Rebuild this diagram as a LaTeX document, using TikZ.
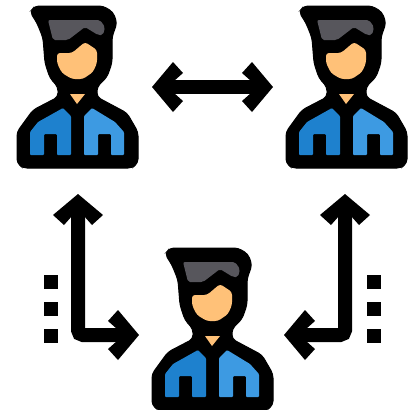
\documentclass[tikz,border=0pt]{standalone}
\usetikzlibrary{arrows.meta}
\definecolor{hairgray}{HTML}{57565C}
\definecolor{skin}{HTML}{FFC178}
\definecolor{jacketdark}{HTML}{1E81CE}
\definecolor{jacketlight}{HTML}{3D9AE2}
\pgfdeclarearrow{
  name = Chevron,
  setup code = {\pgfarrowssettipend{0pt}\pgfarrowssetlineend{-18pt}
    \pgfarrowssetvisualbackend{-31pt}\pgfarrowssetbackend{-31pt}},
  drawing code = {
    \pgfsetcornersarced{\pgfpoint{1.5pt}{1.5pt}}
    \pgfpathmoveto{\pgfpoint{-3pt}{0pt}}
    \pgfpathlineto{\pgfpoint{0pt}{0pt}}
    \pgfpathlineto{\pgfpoint{-21pt}{25pt}}
    \pgfpathlineto{\pgfpoint{-31pt}{14pt}}
    \pgfpathlineto{\pgfpoint{-22pt}{6pt}}
    \pgfpathlineto{\pgfpoint{-22pt}{-6pt}}
    \pgfpathlineto{\pgfpoint{-31pt}{-14pt}}
    \pgfpathlineto{\pgfpoint{-21pt}{-25pt}}
    \pgfpathlineto{\pgfpoint{0pt}{0pt}}
    \pgfpathclose
    \pgfusepathqfill
  }
}
\tikzset{
  silh/.style = {fill=black, draw=black, line width=1pt, rounded corners=4pt},
  hair/.style = {fill=hairgray, rounded corners=2pt},
  face/.style = {fill=skin, rounded corners=3pt},
  neck/.style = {fill=skin},
  jackl/.style = {fill=jacketdark, rounded corners=1pt},
  jackr/.style = {fill=jacketlight, rounded corners=1pt},
  seta/.style = {line width=14pt, rounded corners=5pt, Chevron-Chevron},
  quad/.style = {fill=black, inner sep=0pt, minimum size=14.5pt},
  person/.pic = {
    \draw [silh] (30,12) -- (35,6) -- (103,6) -- (113,12) -- (117,23) -- (112,37)
      -- (112,63) -- (107,77) -- (97,87) -- (97,97) -- (127,113) -- (138,132)
      -- (138,163) -- (132,168) -- (23,168) -- (17,163) -- (17,132) -- (33,110)
      -- (58,97) -- (58,87) -- (50,78) -- (45,63) -- (43,38) -- (37,23) -- cycle;
    \fill [hair] (48,20) -- (100,20) -- (105,27) -- (103,35) -- (98,35) -- (85,27)
      -- (68,40) -- (53,40) -- cycle;
    \fill [face] (57,53) -- (72,53) -- (85,42) -- (97,50) -- (97,63) -- (93,72)
      -- (83,79) -- (72,79) -- (62,73) -- (57,63) -- cycle;
    \fill [neck] (70,94) -- (85,94) -- (77,104) -- cycle;
    \fill [jackl] (30,155) -- (30,132) -- (38,122) -- (63,108) -- (71,116) -- (71,155)
      -- (57,155) -- (57,134) -- (44,134) -- (44,155) -- cycle;
    \fill [jackr] (84,155) -- (84,116) -- (92,108) -- (115,122) -- (124,132) -- (124,155)
      -- (111,155) -- (111,134) -- (98,134) -- (98,155) -- cycle;
  }
}
\begin{document}
\begin{tikzpicture}[x=1pt, y=-1pt]
  \useasboundingbox (0,0) rectangle (413,410);
  \pic (pa) at (0,0) {person};
  \pic (pb) at (269,0) {person};
  \pic (pc) at (135,242) {person};

  \coordinate (ha) at (152,87);
  \coordinate (hb) at (273,87);
  \coordinate (la) at (78,194);
  \coordinate (lb) at (78,335);
  \coordinate (lc) at (139,335);
  \coordinate (ra) at (345,194);
  \coordinate (rb) at (345,335);
  \coordinate (rc) at (284,335);

  \draw [seta] (ha) -- (hb);
  \draw [seta] (la) -- (lb) -- (lc);
  \draw [seta] (ra) -- (rb) -- (rc);

  \foreach \y/\n in {282/a, 309/b, 336/c} {
    \node [quad] (ql\n) at (51,\y) {};
    \node [quad] (qr\n) at (374,\y) {};
  }
\end{tikzpicture}
\end{document}
